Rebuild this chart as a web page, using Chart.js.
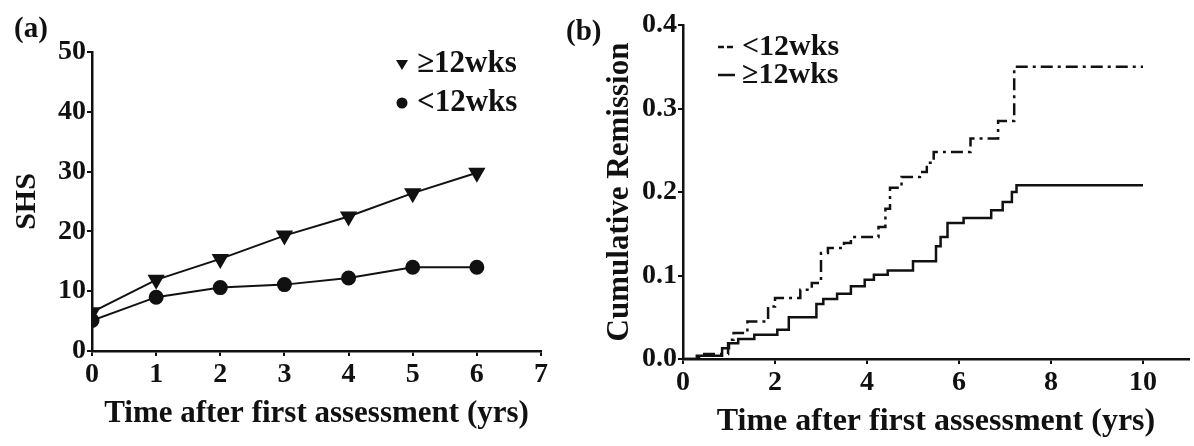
<!DOCTYPE html>
<html>
<head>
<meta charset="utf-8">
<title>SHS progression and cumulative remission</title>
<script src="https://cdn.jsdelivr.net/npm/chart.js@4/dist/chart.umd.min.js"></script>
<style>
  body { margin: 0; background: #fff; width: 1194px; height: 446px; overflow: hidden; position: relative; }
  .panel { position: absolute; top: 0; height: 446px; }
  #wrapA { left: 0; width: 560px; }
  #wrapB { left: 560px; width: 634px; }
  .tag { position: absolute; font: bold 29px "Liberation Serif", "Times New Roman", serif; color: #111; line-height: 34px; }
</style>
</head>
<body>
<div class="panel" id="wrapA"><canvas id="shsChart" width="560" height="446"></canvas></div>
<div class="panel" id="wrapB"><canvas id="remissionChart" width="634" height="446"></canvas></div>
<div class="tag" style="left:14px; top:10px;">(a)</div>
<div class="tag" style="left:566px; top:13px;">(b)</div>

<script>
// (a) mean SHS per year of follow-up
const years = [0, 1, 2, 3, 4, 5, 6];
const shsLong = [6.5, 11.9, 15.4, 19.3, 22.5, 26.4, 29.8];   // >=12 wks
const shsShort = [5.1, 9.0, 10.6, 11.1, 12.2, 14.0, 14.0];  // <12 wks
const shsTicks = [0, 10, 20, 30, 40, 50];

// (b) Kaplan-Meier style cumulative remission, each point starts a new step
const timeLt12 = [0, 0.35, 0.98, 1.1, 1.4, 1.85, 2.0, 2.55, 2.8, 3.0, 3.15, 3.5, 3.65, 4.25, 4.4, 4.5, 4.75, 5.15, 5.3, 5.45, 6.25, 6.85, 7.2, 10];
const remLt12 = [0, 0.006, 0.023, 0.031, 0.045, 0.063, 0.073, 0.083, 0.091, 0.127, 0.133, 0.139, 0.146, 0.158, 0.18, 0.205, 0.218, 0.224, 0.235, 0.248, 0.264, 0.285, 0.35, 0.35];
const timeGe12 = [0, 0.3, 0.85, 1.0, 1.2, 1.55, 2.05, 2.3, 2.9, 3.05, 3.35, 3.65, 3.95, 4.15, 4.45, 5.0, 5.5, 5.6, 5.75, 6.1, 6.7, 6.95, 7.15, 7.25, 10];
const remGe12 = [0, 0.004, 0.013, 0.019, 0.024, 0.029, 0.035, 0.05, 0.066, 0.072, 0.078, 0.087, 0.095, 0.101, 0.106, 0.117, 0.135, 0.146, 0.163, 0.169, 0.178, 0.188, 0.2, 0.208, 0.208];
const timeTicks = [0, 2, 4, 6, 8, 10];
const remTicks = [0, 0.1, 0.2, 0.3, 0.4];

const serif = '"Liberation Serif", "Times New Roman", serif';
const ink = "#111";

Chart.defaults.font.family = serif;
Chart.defaults.font.weight = "bold";
Chart.defaults.color = ink;
Chart.defaults.animation = false;

const toPoints = (xs, ys) => xs.map((x, i) => ({ x: x, y: ys[i] }));
const fixedTicks = (values) => (s) => { s.ticks = values.map((v) => ({ value: v })); };

// small legend drawn straight on the canvas, markers taken from the datasets
const inkLegend = {
    id: "inkLegend",
    afterDraw(chart, args, opts) {
        const ctx = chart.ctx;
        ctx.save();
        ctx.font = "bold " + opts.size + "px " + serif;
        ctx.textBaseline = "middle";
        ctx.fillStyle = ink;
        ctx.strokeStyle = ink;
        opts.order.forEach((dsIndex, i) => {
            const ds = chart.data.datasets[dsIndex];
            const y = opts.y + i * opts.gap;
            const mx = opts.x;
            if (opts.kind === "marker") {
                ctx.beginPath();
                if (ds.pointStyle === "triangle") {
                    ctx.moveTo(mx - 6, y - 4);
                    ctx.lineTo(mx + 6, y - 4);
                    ctx.lineTo(mx, y + 6);
                    ctx.closePath();
                } else {
                    ctx.arc(mx, y, 5.5, 0, Math.PI * 2);
                }
                ctx.fill();
            } else {
                ctx.lineWidth = 2.5;
                ctx.setLineDash(dsIndex === 0 ? [6, 3] : []);
                ctx.beginPath();
                ctx.moveTo(mx - 9, y);
                ctx.lineTo(mx + 8, y);
                ctx.stroke();
                ctx.setLineDash([]);
            }
            ctx.fillText(ds.label, mx + opts.textGap, y);
        });
        ctx.restore();
    }
};

function axisLook(extra) {
    return Object.assign({
        grid: { display: true, drawOnChartArea: false, drawTicks: true, tickLength: 5, color: ink, lineWidth: 2 },
        border: { display: true, color: ink, width: 2.5 }
    }, extra);
}

new Chart(document.getElementById("shsChart"), {
    type: "line",
    data: {
        datasets: [
            {
                label: "\u226512wks",
                data: toPoints(years, shsLong),
                borderColor: ink,
                backgroundColor: ink,
                borderWidth: 2,
                pointStyle: "triangle",
                rotation: 180,
                pointRadius: 8,
                tension: 0
            },
            {
                label: "<12wks",
                data: toPoints(years, shsShort),
                borderColor: ink,
                backgroundColor: ink,
                borderWidth: 2,
                pointStyle: "circle",
                pointRadius: 6.5,
                tension: 0
            }
        ]
    },
    options: {
        responsive: false,
        layout: { padding: { top: 52, right: 19, left: 0, bottom: 0 } },
        plugins: {
            legend: { display: false },
            tooltip: { enabled: false },
            inkLegend: { kind: "marker", order: [0, 1], x: 402, y: 64, gap: 39, size: 31, textGap: 15 }
        },
        scales: {
            x: axisLook({
                type: "linear",
                min: 0,
                max: 7,
                ticks: { stepSize: 1, autoSkip: false, font: { size: 28 }, padding: 2, color: ink },
                title: { display: true, text: "Time after first assessment (yrs)", font: { size: 31 }, padding: { top: 0, bottom: 13 }, color: ink },
                afterFit: (s) => { s.height = 95; }
            }),
            y: axisLook({
                min: 0,
                max: 50,
                afterBuildTicks: fixedTicks(shsTicks),
                ticks: { autoSkip: false, font: { size: 28 }, padding: 1, color: ink },
                title: { display: true, text: "SHS", font: { size: 30 }, padding: { top: 9, bottom: 0 }, color: ink },
                afterFit: (s) => { s.width = 92; }
            })
        }
    },
    plugins: [inkLegend]
});

new Chart(document.getElementById("remissionChart"), {
    type: "line",
    data: {
        datasets: [
            {
                label: "<12wks",
                data: toPoints(timeLt12, remLt12),
                borderColor: ink,
                borderWidth: 2.5,
                borderDash: [12, 5, 3, 5],
                stepped: "before",
                pointRadius: 0
            },
            {
                label: "\u226512wks",
                data: toPoints(timeGe12, remGe12),
                borderColor: ink,
                borderWidth: 2.5,
                stepped: "before",
                pointRadius: 0
            }
        ]
    },
    options: {
        responsive: false,
        layout: { padding: { top: 25, right: 5, left: 0, bottom: 0 } },
        plugins: {
            legend: { display: false },
            tooltip: { enabled: false },
            inkLegend: { kind: "line", order: [0, 1], x: 167, y: 47, gap: 28, size: 30, textGap: 15 }
        },
        scales: {
            x: axisLook({
                type: "linear",
                min: 0,
                max: 11,
                afterBuildTicks: fixedTicks(timeTicks),
                ticks: { autoSkip: false, font: { size: 28 }, padding: 2, color: ink },
                title: { display: true, text: "Time after first assessment (yrs)", font: { size: 32 }, padding: { top: 0, bottom: 5 }, color: ink },
                afterFit: (s) => { s.height = 87; }
            }),
            y: axisLook({
                min: 0,
                max: 0.4,
                afterBuildTicks: fixedTicks(remTicks),
                ticks: { autoSkip: false, font: { size: 28 }, padding: 1, color: ink, callback: (v) => Number(v).toFixed(1) },
                title: { display: true, text: "Cumulative Remission", font: { size: 31 }, padding: { top: 41, bottom: 0 }, color: ink },
                afterFit: (s) => { s.width = 123; }
            })
        }
    },
    plugins: [inkLegend]
});
</script>
</body>
</html>
